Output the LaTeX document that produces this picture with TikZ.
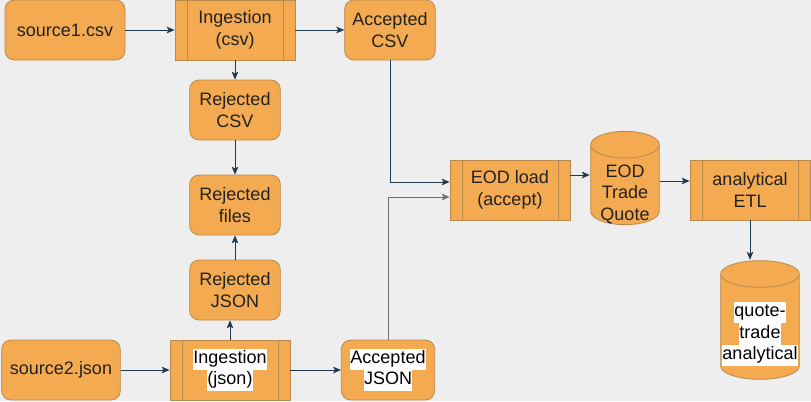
\documentclass[tikz,border=0pt]{standalone}
\usepackage{fontspec}
\setmainfont{Liberation Sans}
\usepackage{tikz}
\usetikzlibrary{
  arrows.meta,
  calc
}

\definecolor{bgcol}{HTML}{EEEEEE}
\definecolor{boxfill}{HTML}{F4AA51}
\definecolor{boxline}{HTML}{B98A4E}
\definecolor{arrowcol}{HTML}{22384C}
\definecolor{lblcol}{HTML}{222222}

\newcommand{\hl}[1]{{\setlength{\fboxsep}{0pt}\colorbox{white}{\strut #1}}}

\tikzset{
  box/.style={draw=boxline, fill=boxfill, line width=0.6pt, rounded corners=7pt,
    text=lblcol, align=center, font=\fontsize{13.5}{16}\selectfont,
    minimum height=45pt, inner sep=0pt},
  procbox/.style={draw=boxline, fill=boxfill, line width=0.6pt,
    text=lblcol, align=center, font=\fontsize{13.5}{16}\selectfont,
    minimum width=90pt, minimum height=45pt, inner sep=0pt,
    path picture={
      \draw[boxline, line width=0.6pt]
        ([xshift=9pt]path picture bounding box.north west) --
        ([xshift=9pt]path picture bounding box.south west);
      \draw[boxline, line width=0.6pt]
        ([xshift=-9pt]path picture bounding box.north east) --
        ([xshift=-9pt]path picture bounding box.south east);
    }},
  dbcyl/.style={text=lblcol, align=center, font=\fontsize{13.5}{16}\selectfont,
    inner sep=0pt,
    path picture={
      \path let \p1=(path picture bounding box.south west),
                \p2=(path picture bounding box.north east),
                \n1={(\x2-\x1)/2-0.5pt}, \n2={10pt} in
        [draw=boxline, fill=boxfill, line width=0.6pt]
        (\x1+0.5pt,\y2-0.5pt-\n2) -- (\x1+0.5pt,\y1+0.5pt+\n2)
        arc[start angle=180, end angle=360, x radius=\n1, y radius=\n2]
        -- (\x2-0.5pt,\y2-0.5pt-\n2)
        arc[start angle=0, end angle=180, x radius=\n1, y radius=\n2] -- cycle
        (\x1+0.5pt,\y2-0.5pt-\n2)
        arc[start angle=180, end angle=360, x radius=\n1, y radius=\n2];
    }},
  flow/.style={draw=arrowcol, line width=0.6pt,
    -{Stealth[length=6pt, width=5pt, inset=1.5pt]}},
  mutedflow/.style={flow, draw=gray!80!arrowcol}
}

\begin{document}
\begin{tikzpicture}[x=0.75pt, y=-0.75pt]
    % canvas
    \fill[bgcol] (0,0) rectangle (811,401);
    \useasboundingbox (0,0) rectangle (811,401);

    % csv branch
    \node[box, minimum width=90pt] (src1) at (65,30) {source1.csv};
    \node[procbox] (ingcsv) at (235,30) {Ingestion\\(csv)};
    \node[box, minimum width=68pt] (acccsv) at (390,30) {Accepted\\CSV};
    \node[box, minimum width=68pt] (rejcsv) at (235,110) {Rejected\\CSV};

    % rejected files
    \node[box, minimum width=68pt] (rejfiles) at (235,205) {Rejected\\files};

    % json branch
    \node[box, minimum width=68pt] (rejjson) at (235,290) {Rejected\\JSON};
    \node[box, minimum width=89pt] (src2) at (61,370) {source2.json};
    \node[procbox, text=black] (ingjson) at (230,370) {\hl{Ingestion}\\\hl{(json)}};
    \node[box, minimum width=70pt, text=black] (accjson) at (388,370) {\hl{Accepted}\\\hl{JSON}};

    % loading and analytics
    \node[procbox] (eodload) at (510,190) {EOD load\\(accept)};
    \node[dbcyl, minimum width=52.5pt, minimum height=71pt, text height=66pt] (tradequote)
      at (625,178) {EOD\\Trade\\Quote};
    \node[procbox] (etl) at (750,190) {analytical\\ETL};
    \node[dbcyl, minimum width=60pt, minimum height=90pt, text height=64pt, text=black]
      (qtanalytical) at (760,320) {\hl{quote-}\\\hl{trade}\\\hl{analytical}};

    % connectors
    \draw[flow] (src1) -- (ingcsv);
    \draw[flow] (ingcsv) -- (acccsv);
    \draw[flow] (ingcsv) -- (rejcsv);
    \draw[flow] (rejcsv) -- (rejfiles);
    \draw[flow] (rejjson) -- (rejfiles);
    \draw[flow] (ingjson.north) -- (ingjson.north |- rejjson.south);
    \draw[flow] (src2) -- (ingjson);
    \draw[flow] (ingjson) -- (accjson);
    \draw[flow] (acccsv.south) |- ([yshift=6pt]eodload.west);
    \draw[mutedflow] (accjson.north) |- ([yshift=-5.25pt]eodload.west);
    \draw[flow] ([yshift=11.25pt]eodload.east) -- ([yshift=11.25pt]eodload.east -| tradequote.west);
    \draw[flow] ([yshift=-2.25pt]tradequote.east) -- ([yshift=-2.25pt]tradequote.east -| etl.west);
    \draw[flow] (etl) -- (etl |- qtanalytical.north);
\end{tikzpicture}
\end{document}
